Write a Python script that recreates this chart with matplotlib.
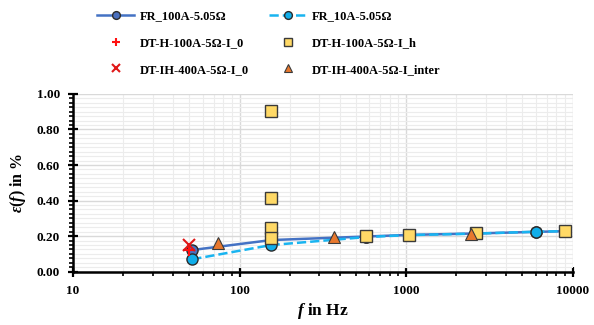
import matplotlib
matplotlib.use("Agg")
import matplotlib.pyplot as plt
from matplotlib.ticker import MultipleLocator, LogLocator, NullFormatter, FixedLocator

plt.rcParams['font.family'] = ['Liberation Serif', 'DejaVu Serif']
plt.rcParams['font.weight'] = 'bold'
plt.rcParams['mathtext.fontset'] = 'custom'
plt.rcParams['mathtext.it'] = 'Liberation Serif:italic:bold'
plt.rcParams['mathtext.rm'] = 'Liberation Serif:bold'

# Data
fr_freq = [52, 155, 578, 1040, 2600, 6000, 9000]
fr100_vals = [0.122, 0.178, 0.198, 0.207, 0.215, 0.224, 0.228]
fr10_vals = [0.070, 0.150, 0.195, 0.206, 0.214, 0.225, 0.228]

dth_i0_freq = [50]
dth_i0_vals = [0.120]

dth_ih_freq = [155, 155, 155, 155, 578, 1040, 2616, 8970]
dth_ih_vals = [0.904, 0.416, 0.248, 0.188, 0.201, 0.208, 0.216, 0.229]

dtih_i0_freq = [50]
dtih_i0_vals = [0.152]

dtih_inter_freq = [74, 370, 2443]
dtih_inter_vals = [0.160, 0.194, 0.212]

xticks = [10, 100, 1000, 10000]
yticks = [0.0, 0.2, 0.4, 0.6, 0.8, 1.0]

fig = plt.figure(figsize=(5.94, 3.25), dpi=100)
ax = fig.add_axes([0.123, 0.164, 0.841, 0.547])

edge = '#2b2b2b'
h1, = ax.plot(fr_freq, fr100_vals, '-', color='#4472C4', lw=1.8, marker='o', ms=8,
              mfc='#4a70bf', mec=edge, mew=1.0, zorder=3, label='FR_100A-5.05Ω')
h2, = ax.plot(fr_freq, fr10_vals, '--', color='#19B4F0', lw=1.8, marker='o', ms=8,
              mfc='#10AEEA', mec=edge, mew=1.0, zorder=3.5, label='FR_10A-5.05Ω')
h4, = ax.plot(dth_ih_freq, dth_ih_vals, 's', ms=8, mfc='#FFD966', mec='#3a3a3a', mew=1.0,
              zorder=4, label='DT-H-100A-5Ω-I_h')
h6, = ax.plot(dtih_inter_freq, dtih_inter_vals, '^', ms=8, mfc='#E8782E', mec='#3a3a3a', mew=0.8,
              zorder=5, label='DT-IH-400A-5Ω-I_inter')
h3, = ax.plot(dth_i0_freq, dth_i0_vals, '+', ms=9, mec='#FF1010', mew=1.5,
              zorder=6, label='DT-H-100A-5Ω-I_0')
h5, = ax.plot(dtih_i0_freq, dtih_i0_vals, 'x', ms=8, mec='#E01818', mew=1.5,
              zorder=6, label='DT-IH-400A-5Ω-I_0')

ax.set_xscale('log')
ax.set_xlim(10, 10000)
ax.set_ylim(0, 1.0)
ax.xaxis.set_major_locator(FixedLocator(xticks))
ax.set_xticklabels([str(t) for t in xticks])
ax.xaxis.set_minor_locator(LogLocator(base=10, subs=range(2, 10)))
ax.xaxis.set_minor_formatter(NullFormatter())
ax.yaxis.set_major_locator(FixedLocator(yticks))
ax.set_yticklabels([f'{t:.2f}' for t in yticks])
ax.yaxis.set_minor_locator(MultipleLocator(0.025))

ax.grid(True, which='major', color='#d9d9d9', lw=1.0)
ax.grid(True, which='minor', color='#ececec', lw=0.8)
ax.set_axisbelow(True)

for s in ['top', 'right']:
    ax.spines[s].set_visible(False)
for s in ['left', 'bottom']:
    ax.spines[s].set_linewidth(1.8)
    ax.spines[s].set_color('black')

ax.tick_params(which='major', direction='inout', length=7, width=1.6, labelsize=9.5, pad=6)
ax.tick_params(which='minor', direction='out', length=3, width=1.2)

ax.set_xlabel(r'$f$ in Hz', fontsize=12.5, fontweight='bold', labelpad=3)
ax.set_ylabel(r'$\varepsilon(f)$ in %', fontsize=11.5, fontweight='bold', labelpad=6)

handles = [h1, h3, h5, h2, h4, h6]
leg = fig.legend(handles=handles, labels=[h.get_label() for h in handles], ncol=2,
                 loc='upper left', bbox_to_anchor=(0.163, 0.968), frameon=False,
                 fontsize=9, handlelength=3.0, handletextpad=0.45, columnspacing=1.6,
                 labelspacing=1.17, borderpad=0, borderaxespad=0, markerscale=0.7)

fig.savefig('out.png', dpi=100)
